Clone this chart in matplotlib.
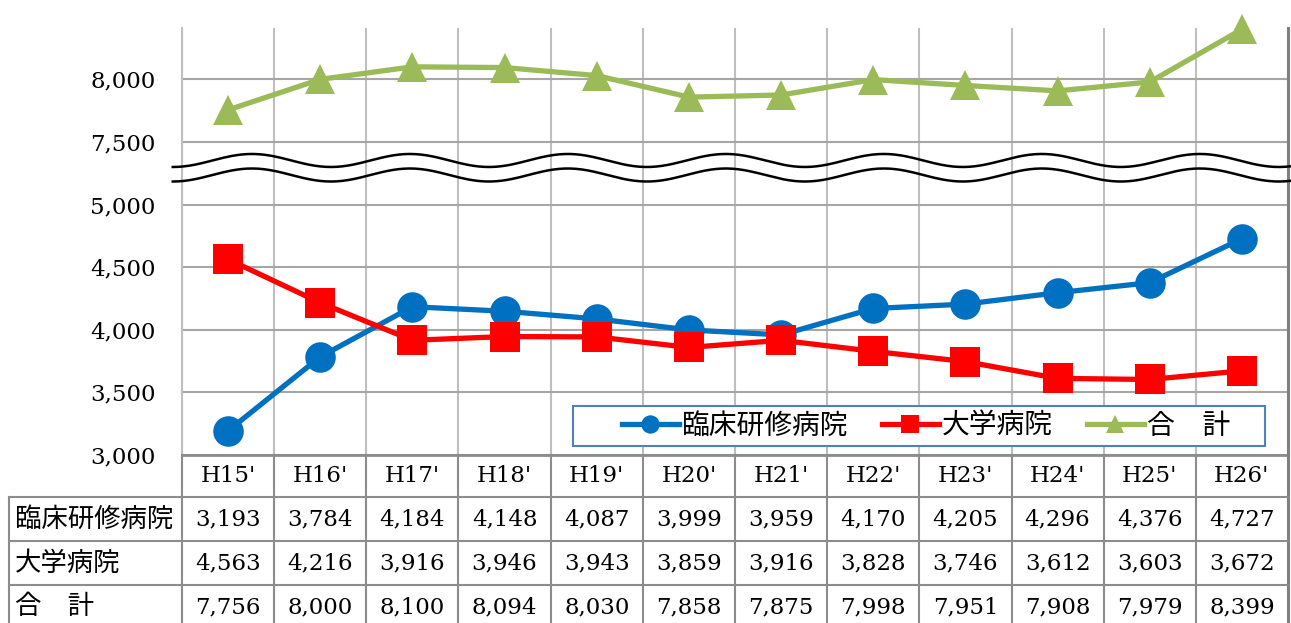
import numpy as np
import matplotlib
matplotlib.use("Agg")
import matplotlib.pyplot as plt
from matplotlib.patches import Rectangle
from matplotlib.font_manager import FontProperties
from matplotlib.transforms import blended_transform_factory

plt.rcParams['font.family'] = ['DejaVu Serif', 'Noto Sans CJK JP']

# data
years = ["H15'", "H16'", "H17'", "H18'", "H19'", "H20'",
         "H21'", "H22'", "H23'", "H24'", "H25'", "H26'"]
clinical = [3193, 3784, 4184, 4148, 4087, 3999, 3959, 4170, 4205, 4296, 4376, 4727]
univ = [4563, 4216, 3916, 3946, 3943, 3859, 3916, 3828, 3746, 3612, 3603, 3672]
total = [7756, 8000, 8100, 8094, 8030, 7858, 7875, 7998, 7951, 7908, 7979, 8399]
names = ["臨床研修病院", "大学病院", "合　計"]
yticks = [3000, 3500, 4000, 4500, 5000, 7500, 8000]

# axis break: values above 5,000 are drawn 2,000 lower
BREAK_AT, GAP = 5000, 2000
def brk(v):
    v = np.asarray(v, dtype=float)
    return np.where(v > BREAK_AT, v - GAP, v)

W, H = 1291, 623
COL = {"clin": "#0070C0", "univ": "#FF0000", "tot": "#9BBB59"}
JP = "Noto Sans CJK JP"
NUMSIZE = 16.5

fig = plt.figure(figsize=(W / 100, H / 100), dpi=100)
ax = fig.add_axes([182 / W, (H - 455) / H, (1288 - 182) / W, (455 - 28) / H])
x = np.arange(len(years))
ax.set_xlim(-0.5, len(years) - 0.5)
ax.set_ylim(3000, 6410)

# grid
ax.set_xticks(np.arange(-0.5, len(years)), [""] * (len(years) + 1))
ax.set_yticks(brk(yticks), [f"{v:,}" for v in yticks], fontsize=NUMSIZE)
ax.tick_params(length=0, pad=19)
ax.tick_params(axis="x", pad=0)
ax.xaxis.grid(True, color="#BFBFBF", lw=1.5)
ax.yaxis.grid(True, color="#A6A6A6", lw=1.5)
ax.set_axisbelow(True)
ax.spines["top"].set_visible(False)
ax.spines["left"].set_color("#BFBFBF"); ax.spines["left"].set_linewidth(1.5)
ax.spines["right"].set_color("#808080"); ax.spines["right"].set_linewidth(2.2)
ax.spines["bottom"].set_color("#8C8C8C"); ax.spines["bottom"].set_linewidth(2)

kw = dict(lw=3.8, ms=22, markeredgewidth=0, clip_on=False)
l1, = ax.plot(x, clinical, "o-", color=COL["clin"], label=names[0], **kw)
l2, = ax.plot(x, univ, "s-", color=COL["univ"], label=names[1], **kw)
l3, = ax.plot(x, brk(total), "^-", color=COL["tot"], label=names[2], **kw)

# wavy break marks
xw = np.linspace(-0.6, 11.53, 600)
for c in (5352, 5236):
    ax.plot(xw, c + 52 * np.cos(2 * np.pi * (xw - 0.259) / 1.714),
            color="black", lw=1.8, clip_on=False, zorder=3)

# legend
ax.add_patch(Rectangle((573 / W, 1 - 446 / H), (1265 - 573) / W, 40 / H,
                       transform=fig.transFigure, fc="white", ec="#4F81BD",
                       lw=1.5, zorder=4.5, clip_on=False))
leg = ax.legend(loc="center left", bbox_to_anchor=(608 / W, 1 - 426 / H),
                bbox_transform=fig.transFigure, frameon=False, ncol=3,
                handlelength=2.05, handletextpad=0.12, columnspacing=1.2,
                borderpad=0, markerscale=0.6, prop=FontProperties(family=JP, size=20))
leg.set_zorder(5)

# table below the plot
tax = fig.add_axes([0, 0, 1, 1])
tax.set_xlim(0, W); tax.set_ylim(H, 0); tax.axis("off")
tr = blended_transform_factory(ax.transData, tax.transData)
rows = [455, 497, 541, 585, 629]
lc, lw = "#8C8C8C", 1.5
for xb in np.arange(-0.5, len(years)):
    right = xb == len(years) - 0.5
    tax.plot([xb, xb], [455, H], color="#808080" if right else lc,
             lw=2.2 if right else lw, transform=tr, clip_on=False)
for yb in rows[1:4]:
    tax.plot([9, 1288], [yb, yb], color=lc, lw=lw)
tax.plot([9, 9], [497, H], color=lc, lw=lw)

for i, y in enumerate(years):
    tax.text(i, (rows[0] + rows[1]) / 2, y, ha="center", va="center",
             fontsize=NUMSIZE, transform=tr)
for r, (name, vals) in enumerate(zip(names, [clinical, univ, total])):
    yc = (rows[r + 1] + rows[r + 2]) / 2
    tax.text(15, yc, name, ha="left", va="center", fontsize=19, family=JP)
    for i, v in enumerate(vals):
        tax.text(i, yc, f"{v:,}", ha="center", va="center", fontsize=NUMSIZE, transform=tr)

fig.savefig("out.png", dpi=100)
